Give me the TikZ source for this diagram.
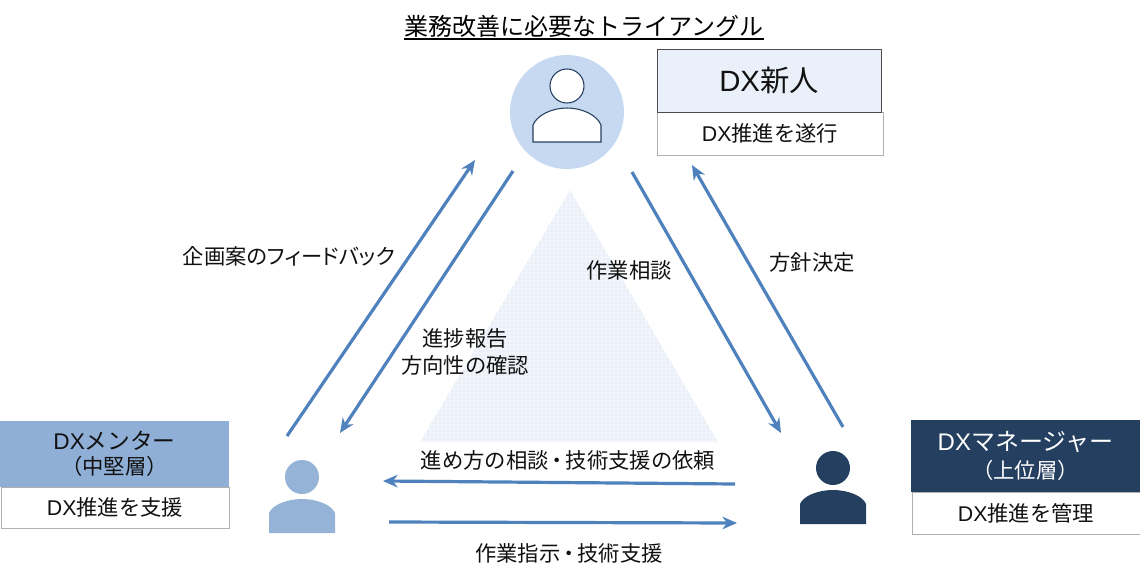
\documentclass[tikz,border=0pt]{standalone}
\usepackage{fontspec}
\setmainfont{Noto Sans CJK JP}
\newfontfamily\latinfont{Liberation Sans}
\newfontfamily\paltfont[RawFeature=+palt]{Noto Sans CJK JP}
\usetikzlibrary{patterns,arrows.meta}
\newcommand{\dxmark}{{\latinfont DX}}
\newcommand{\tightdot}{\hspace{-1.6pt}・\hspace{-1.6pt}}
\definecolor{arrowblue}{HTML}{4F81BD}
\definecolor{topcircle}{HTML}{C6D9F1}
\definecolor{topband}{HTML}{E9F0FA}
\definecolor{midband}{HTML}{8FAFD6}
\definecolor{navy}{HTML}{243F60}
\definecolor{midperson}{HTML}{95B3D7}
\definecolor{graybox}{HTML}{B0B0B0}
\definecolor{dotblue}{HTML}{C4D6EC}
\definecolor{trifill}{HTML}{F1F5FB}
\definecolor{ink}{HTML}{111111}
\tikzset{
  px/.style={x=0.75pt,y=-0.75pt},
  flow/.style={draw=arrowblue,line width=2.4pt,-{Stealth[length=11pt,width=9.5pt]}},
  lab/.style={font=\fontsize{16}{20}\selectfont,text=ink,inner sep=0pt,anchor=center,align=center},
  band/.style={inner sep=0pt,outer sep=0pt,anchor=north west,align=center},
  subbox/.style={band,draw=graybox,line width=0.6pt,fill=white,font=\fontsize{16}{20}\selectfont,text=ink},
}
\begin{document}
\begin{tikzpicture}[px]
\useasboundingbox (0,0) rectangle (1140,579);
% central triangle
\fill[trifill] (570,190) -- (718,442) -- (420,442) -- cycle;
\fill[pattern=dots,pattern color=dotblue] (570,190) -- (718,442) -- (420,442) -- cycle;
% title
\node[lab,font=\fontsize{18}{22}\selectfont,text=black] (title) at (584,26) {業務改善に必要なトライアングル};
\draw[black,line width=1pt] (title.west |- 0,39) -- (title.east |- 0,39);
% top person
\node[circle,fill=topcircle,minimum size=114*0.75pt,inner sep=0pt] (newbiecircle) at (567,112) {};
\node[circle,draw=navy,fill=white,line width=0.8pt,minimum size=34*0.75pt,inner sep=0pt] (newbiehead) at (567,86) {};
\draw[navy,fill=white,line width=0.8pt] (533,142) -- (533,125) .. controls (537,115) and (552,108) .. (567,108) .. controls (582,108) and (597,115) .. (601,125) -- (601,142) -- cycle;
% mentor person
\node[circle,fill=midperson,minimum size=34*0.75pt,inner sep=0pt] (mentorhead) at (302,477) {};
\fill[midperson] (269,533) -- (269,513) .. controls (272,505) and (287,499) .. (302,499) .. controls (317,499) and (332,505) .. (335,513) -- (335,533) -- cycle;
% manager person
\node[circle,fill=navy,minimum size=34*0.75pt,inner sep=0pt] (managerhead) at (833,468) {};
\fill[navy] (800,524) -- (800,504) .. controls (803,496) and (818,490) .. (833,490) .. controls (848,490) and (863,496) .. (866,504) -- (866,524) -- cycle;
% newbie box
\node[subbox,minimum width=226*0.75pt,minimum height=43*0.75pt] (newbiesub) at (657,112) {\dxmark 推進を遂行};
\node[band,draw=black!70,line width=0.6pt,fill=topband,minimum width=224*0.75pt,minimum height=63*0.75pt,font=\fontsize{22}{26}\selectfont,text=ink] (newbiehdr) at (657,49) {\dxmark 新人};
% mentor box
\node[subbox,minimum width=228*0.75pt,minimum height=41*0.75pt] (mentorsub) at (1,487) {\dxmark 推進を支援};
\node[band,fill=midband,minimum width=229*0.75pt,minimum height=66*0.75pt,text=ink] (mentorhdr) at (0,421) {\fontsize{17}{22}\selectfont\dxmark メンター\\[3.5pt]\fontsize{16}{20}\selectfont （中堅層）};
% manager box
\node[subbox,minimum width=228*0.75pt,minimum height=42*0.75pt] (managersub) at (912,492) {\dxmark 推進を管理};
\node[band,fill=navy,minimum width=229*0.75pt,minimum height=72*0.75pt,text=white] (managerhdr) at (911,420) {\fontsize{18}{23}\selectfont\dxmark マネージャー\\[4.7pt]\fontsize{16}{20}\selectfont （上位層）};
% connector ends
\coordinate (a1) at (287,436); \coordinate (a2) at (475,160);
\coordinate (b1) at (513,171); \coordinate (b2) at (340,433);
\coordinate (c1) at (632,172); \coordinate (c2) at (781,433);
\coordinate (d1) at (843,427); \coordinate (d2) at (692,165);
\coordinate (e1) at (735,484); \coordinate (e2) at (383,481);
\coordinate (f1) at (389,522); \coordinate (f2) at (737,523);
\draw[flow] (a1) -- (a2);
\draw[flow] (b1) -- (b2);
\draw[flow] (c1) -- (c2);
\draw[flow] (d1) -- (d2);
\draw[flow] (e1) -- (e2);
\draw[flow] (f1) -- (f2);
% labels
\node[lab] (l1) at (289,256) {\paltfont 企画案のフィードバック};
\node[lab] (l2) at (465,352) {進捗報告\\方向性の確認};
\node[lab] (l3) at (629,270) {作業相談};
\node[lab] (l4) at (812,262) {方針決定};
\node[lab] (l5) at (568,460) {進め方の相談\tightdot 技術支援の依頼};
\node[lab] (l6) at (569,553) {作業指示\tightdot 技術支援};
\end{tikzpicture}
\end{document}
